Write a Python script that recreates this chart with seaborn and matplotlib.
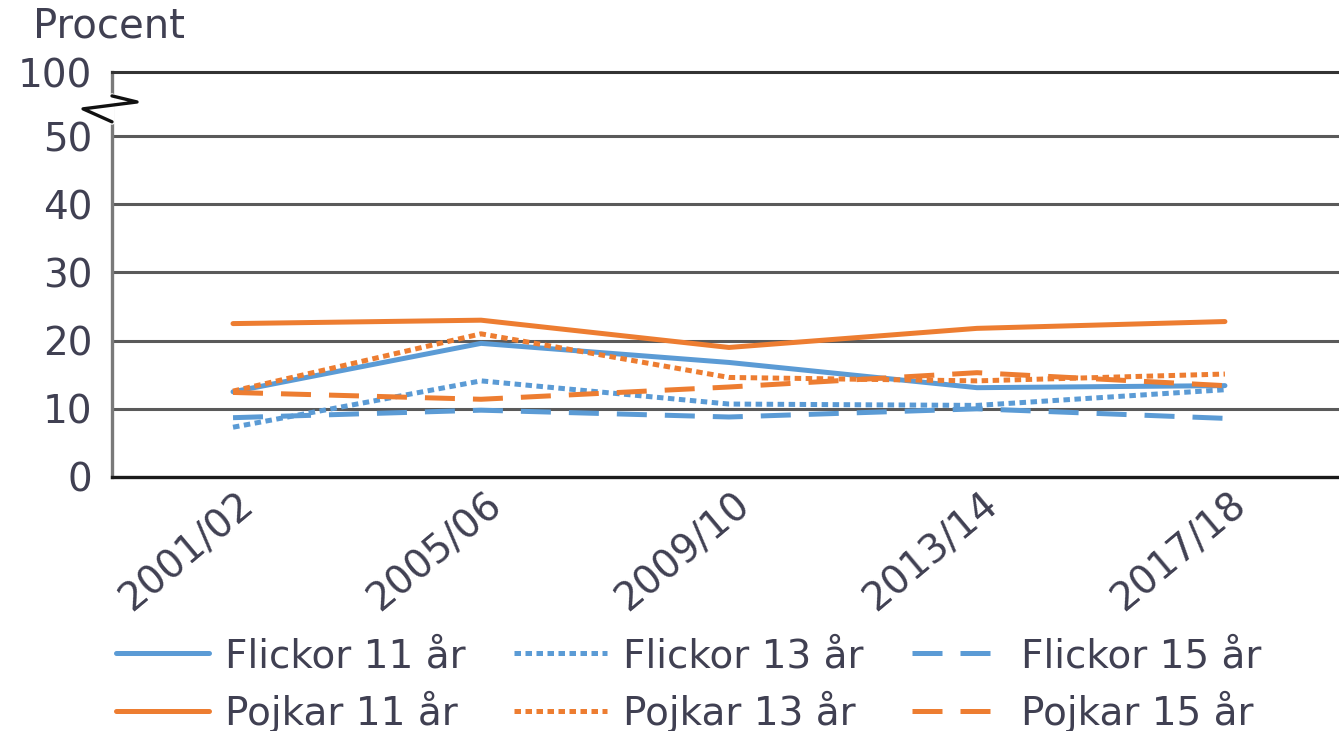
import pandas as pd
import matplotlib
matplotlib.use('Agg')
import matplotlib.pyplot as plt
import matplotlib.transforms as mtransforms
from matplotlib.lines import Line2D
import seaborn as sns

# data
years = ['2001/02', '2005/06', '2009/10', '2013/14', '2017/18']
flickor_11 = [12.5, 19.6, 16.8, 13.1, 13.4]
flickor_13 = [7.3, 14.1, 10.7, 10.5, 12.8]
flickor_15 = [8.7, 9.8, 8.8, 10.0, 8.6]
pojkar_11 = [22.5, 23.0, 19.0, 21.8, 22.8]
pojkar_13 = [12.6, 21.0, 14.6, 14.1, 15.1]
pojkar_15 = [12.4, 11.4, 13.2, 15.3, 13.4]

series_names = ['Flickor 11 år', 'Flickor 13 år', 'Flickor 15 år',
                'Pojkar 11 år', 'Pojkar 13 år', 'Pojkar 15 år']
series_vals = [flickor_11, flickor_13, flickor_15, pojkar_11, pojkar_13, pojkar_15]

y_ticks = [0, 10, 20, 30, 40, 50]
y_top = 59.4  # the "100" position above the axis break
y_tick_labels = ['0', '10', '20', '30', '40', '50', '100']

# long table for seaborn
rows = []
for name, vals in zip(series_names, series_vals):
    for i, v in enumerate(vals):
        rows.append({'x': i, 'ar': years[i], 'serie': name, 'procent': v})
df = pd.DataFrame(rows)

blue = '#5B9BD5'
orange = '#ED7D31'
palette = {n: (blue if n.startswith('Flickor') else orange) for n in series_names}
dash_dot = (1.3, 0.9)
dash_long = (6, 3.6)
dashes = {
    'Flickor 11 år': '', 'Flickor 13 år': dash_dot, 'Flickor 15 år': dash_long,
    'Pojkar 11 år': '', 'Pojkar 13 år': dash_dot, 'Pojkar 15 år': dash_long,
}

sns.set_style('white')
plt.rcParams['font.family'] = ['DejaVu Sans']
text_col = '#404052'

fig = plt.figure(figsize=(13.39, 7.31), dpi=100)
ax = fig.add_axes([112 / 1339, 1 - 477 / 731, 1 - 112 / 1339, 405 / 731])

sns.lineplot(data=df, x='x', y='procent', hue='serie', style='serie',
             hue_order=series_names, style_order=series_names,
             palette=palette, dashes=dashes, linewidth=3.6,
             legend=False, ax=ax)

ax.set_xlim(-0.488, 4.46)
ax.set_ylim(0, y_top)
ax.set_xlabel('')
ax.set_ylabel('')

ax.set_yticks(y_ticks + [y_top])
ax.set_yticklabels(y_tick_labels)
ax.set_xticks(range(len(years)))
ax.set_xticklabels(years, rotation=40, ha='right')
ax.tick_params(axis='both', length=0, labelsize=28, colors=text_col)
ax.tick_params(axis='y', pad=14)
ax.tick_params(axis='x', pad=6)
offset = mtransforms.ScaledTranslation(28 / 100, 0, fig.dpi_scale_trans)
for lab in ax.get_xticklabels():
    lab.set_transform(lab.get_transform() + offset)

# grid lines
for v in y_ticks[1:]:
    ax.axhline(v, color='#5a5a5a', lw=2.2, zorder=0)

ax.spines['right'].set_visible(False)
ax.spines['top'].set_color('#333333')
ax.spines['top'].set_linewidth(2.2)
ax.spines['left'].set_color('#7a7a7a')
ax.spines['left'].set_linewidth(2.4)
ax.spines['bottom'].set_color('#1a1a1a')
ax.spines['bottom'].set_linewidth(2.4)

# axis break symbol
ax.plot([0, 0], [0.877, 0.941], transform=ax.transAxes, color='white',
        lw=4, clip_on=False, zorder=5)
ax.plot([0, 0.0204, -0.0236, 0], [0.941, 0.926, 0.909, 0.877],
        transform=ax.transAxes, color='#111111', lw=2.4, clip_on=False,
        zorder=6)

fig.text(33 / 1339, 1 - 46 / 731, 'Procent', fontsize=29, color=text_col,
         ha='left', va='bottom')

# legend: rows Flickor / Pojkar
handles = {}
for n in series_names:
    d = dashes[n]
    h = Line2D([], [], color=palette[n], lw=3.6)
    if d:
        h.set_dashes(d)
    handles[n] = h
order = ['Flickor 11 år', 'Pojkar 11 år', 'Flickor 13 år',
         'Pojkar 13 år', 'Flickor 15 år', 'Pojkar 15 år']
leg = fig.legend([handles[n] for n in order], order, ncol=3,
                 loc='upper left', bbox_to_anchor=(116 / 1339, 1 - 637 / 731),
                 frameon=False, fontsize=28, handlelength=2.4,
                 handletextpad=0.4, columnspacing=1.25, labelspacing=0.4,
                 borderpad=0, borderaxespad=0)
for t in leg.get_texts():
    t.set_color(text_col)

plt.savefig('out.png', dpi=100)
